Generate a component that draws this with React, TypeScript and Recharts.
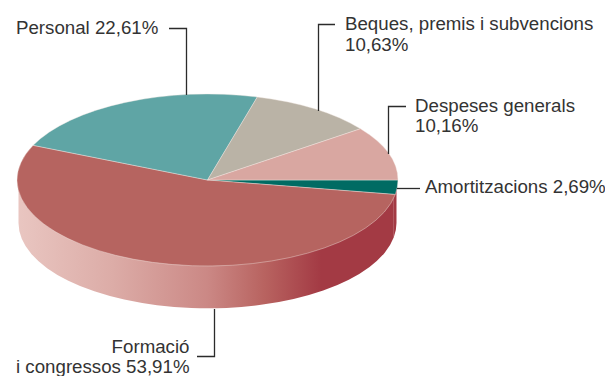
import React from "react";
import { PieChart, Pie } from "recharts";

const categories = ["Amortitzacions", "Formació i congressos", "Personal", "Beques, premis i subvencions", "Despeses generals"];
const shares = [2.69, 53.91, 22.61, 10.63, 10.16];
const topColours = ["#006b63", "#b66460", "#5fa5a5", "#bab3a6", "#d9a7a1"];

const rows = categories.map((name, i) => ({ name, value: shares[i] }));

const FONT = "'Liberation Sans', Arial, sans-serif";
const INK = "#333333";
const SQUASH = 86 / 190.5;
const DEPTH = 43;
const CX = 207.5;
const CY = 180;

const rad = (d: number) => (d * Math.PI) / 180;

function ellipsePoint(cx: number, cy: number, r: number, a: number) {
  return [cx + r * Math.cos(rad(a)), cy - r * SQUASH * Math.sin(rad(a))];
}

function TopSlice(p: any) {
  const { cx, cy, outerRadius: r, startAngle, endAngle, fill } = p;
  const [x0, y0] = ellipsePoint(cx, cy, r, startAngle);
  const [x1, y1] = ellipsePoint(cx, cy, r, endAngle);
  const large = Math.abs(endAngle - startAngle) > 180 ? 1 : 0;
  const d = `M${cx},${cy}L${x0},${y0}A${r},${r * SQUASH} 0 ${large} 1 ${x1},${y1}Z`;
  return <path d={d} fill={fill} stroke="#f4ece6" strokeWidth={0.4} />;
}

function WallSlice(p: any) {
  const { cx, cy, outerRadius: r, startAngle, endAngle } = p;
  const from = Math.min(startAngle, 0);
  const to = Math.max(endAngle, -180);
  if (from <= to) return <g />;
  const [x0, y0] = ellipsePoint(cx, cy, r, from);
  const [x1, y1] = ellipsePoint(cx, cy, r, to);
  const ry = r * SQUASH;
  const d = `M${x0},${y0}A${r},${ry} 0 0 1 ${x1},${y1}L${x1},${y1 + DEPTH}A${r},${ry} 0 0 0 ${x0},${y0 + DEPTH}Z`;
  return <path d={d} fill="url(#wallFade)" />;
}

const labelLines = [
  ["Amortitzacions 2,69%"],
  ["Formació", "i congressos 53,91%"],
  ["Personal 22,61%"],
  ["Beques, premis i subvencions", "10,63%"],
  ["Despeses generals", "10,16%"],
];
const labelAnchors: { x: number; y: number; anchor: "start" | "end"; leader: string }[] = [
  { x: 425, y: 193, anchor: "start", leader: "M397,188.5H420" },
  { x: 189.5, y: 352.5, anchor: "end", leader: "M197,356.5H214.5V309" },
  { x: 16, y: 34, anchor: "start", leader: "M169,28.5H186.5V95" },
  { x: 345, y: 30, anchor: "start", leader: "M335,24.5H318.5V111" },
  { x: 415, y: 111.5, anchor: "start", leader: "M406,106.5H388.5V154" },
];

function SliceLabel(p: any) {
  const i = p.index as number;
  const a = labelAnchors[i];
  return (
    <g>
      <path d={a.leader} fill="none" stroke="#2b2b2b" strokeWidth={1.3} />
      <text x={a.x} y={a.y} textAnchor={a.anchor} fontFamily={FONT} fontSize={18.7} fill={INK}>
        {labelLines[i].map((t, k) => (
          <tspan key={k} x={a.x} dy={k === 0 ? 0 : 20.7}>
            {t}
          </tspan>
        ))}
      </text>
    </g>
  );
}

export default function App() {
  return (
    <div style={{ position: "absolute", left: 0, top: 0, width: 605, height: 376, background: "#fff" }}>
      <PieChart width={605} height={376} margin={{ top: 0, right: 0, bottom: 0, left: 0 }}>
        <defs>
          <linearGradient id="wallFade" gradientUnits="userSpaceOnUse" x1={18} y1={0} x2={397} y2={0}>
            <stop offset="0%" stopColor="#e9c6c1" />
            <stop offset="25%" stopColor="#dcaca7" />
            <stop offset="50%" stopColor="#cb8885" />
            <stop offset="65%" stopColor="#b86360" />
            <stop offset="80%" stopColor="#a33a44" />
            <stop offset="100%" stopColor="#a33a44" />
          </linearGradient>
        </defs>
        <Pie
          data={rows}
          dataKey="value"
          nameKey="name"
          cx={CX}
          cy={CY}
          innerRadius={0}
          outerRadius={189}
          startAngle={0}
          endAngle={-360}
          paddingAngle={0}
          isAnimationActive={false}
          labelLine={false}
          shape={WallSlice}
          fill="#a33a44"
        />
        <Pie
          data={rows.map((r, i) => ({ ...r, fill: topColours[i] }))}
          dataKey="value"
          nameKey="name"
          cx={CX}
          cy={CY}
          innerRadius={0}
          outerRadius={190.5}
          startAngle={0}
          endAngle={-360}
          paddingAngle={0}
          isAnimationActive={false}
          labelLine={false}
          label={SliceLabel}
          shape={TopSlice}
        />
      </PieChart>
    </div>
  );
}
